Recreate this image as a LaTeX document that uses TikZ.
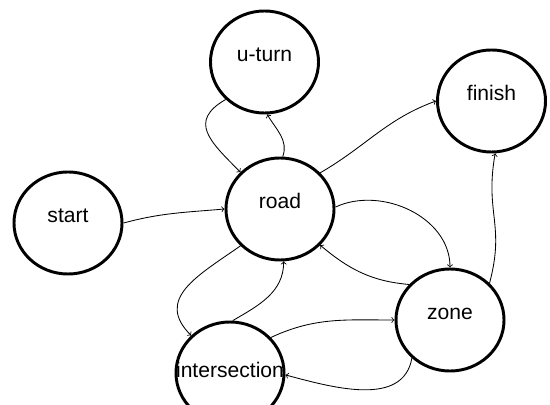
\documentclass[tikz,border=0pt]{standalone}
\usepackage{fontspec}
\setmainfont{Liberation Sans}
\usetikzlibrary{arrows}
\usetikzlibrary{shapes.geometric}
\tikzset{
  st_n/.style = {ellipse, draw=black, line width=2.1pt, inner sep=0pt,
    minimum width=2.7cm, minimum height=2.55cm,
    text height=0.75em, text depth=0.85em,
    font=\fontsize{15}{17}\selectfont},
  st_w/.style = {st_n, text depth=0.1em}
}

\begin{document}
\begin{tikzpicture}[x=0.025cm,y=-0.025cm,>=to,line width=0.6pt]
\useasboundingbox (0,0) rectangle (550,405);
    \node (uturn)  [st_n] at (264.5,62)  {u-turn};
    \node (finish) [st_n] at (491.5,101) {finish};
    \node (start)  [st_n] at (68,223)    {start};
    \node (road)   [st_n] at (280,209)   {road};
    \node (zone)   [st_n] at (450,320)   {zone};
    \node (inter)  [st_w] at (230,373)   {\makebox[0pt]{intersection}};
%
\draw[->] (start.east) to[out=15,in=185] (road.west);
%
\draw[->] (uturn.224) to[out=210,in=135,looseness=1.5] (road.137);
\draw[->] (road.87) to[out=70,in=-60] (uturn.-87);
%
\draw[->] (road.42) to[out=30,in=200] (finish.west);
\draw[->] (road.2) to[out=25,in=90] (zone.north);
\draw[->] (zone.139) to[out=175,in=-40] (road.-42);
\draw[->] (zone.43) to[out=75,in=-100,looseness=1.2] (finish.-86);
%
\draw[->] (road.-137) to[out=-145,in=135,looseness=1.3] (inter.136);
\draw[->] (inter.87) to[out=30,in=-90] (road.-86);
\draw[->] (inter.41) to[out=25,in=180] (zone.west);
\draw[->] (zone.-135) to[out=-100,in=-15] (inter.-2);
\end{tikzpicture}
\end{document}
